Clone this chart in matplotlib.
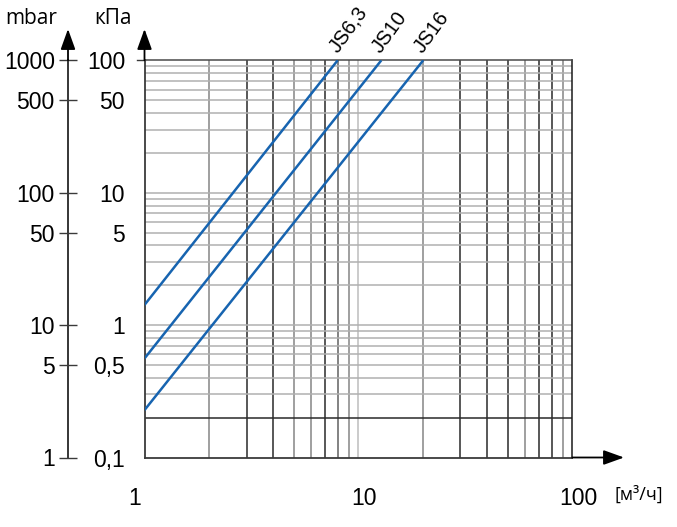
import matplotlib
matplotlib.use("Agg")
import matplotlib.pyplot as plt
import matplotlib.transforms as mtransforms
import numpy as np

# ---- data ----
series_names = ["JS6,3", "JS10", "JS16"]
flow_start = [1.0, 1.0, 1.0]          # m3/h
dp_start = [1.42, 0.56, 0.228]         # kPa
flow_end = [8.0, 12.8, 20.1]           # m3/h
dp_end = [100.0, 100.0, 100.0]         # kPa

x_ticks = [1, 10, 100]
x_tick_labels = ["1", "10", "100"]
kpa_ticks = [100, 50, 10, 5, 1, 0.5, 0.1]
kpa_labels = ["100", "50", "10", "5", "1", "0,5", "0,1"]
mbar_ticks = [1000, 500, 100, 50, 10, 5, 1]
mbar_labels = ["1000", "500", "100", "50", "10", "5", "1"]

# vertical grid values and their shade
vgrid_vals = [2, 3, 4, 5, 6, 7, 8, 9, 10, 20, 30, 40, 50, 60, 70, 80, 90]
vgrid_cols = ["#858585", "#2a2a2a", "#2a2a2a", "#858585", "#858585", "#2a2a2a",
              "#606060", "#858585", "#bdbdbd", "#858585", "#2a2a2a", "#2a2a2a",
              "#2a2a2a", "#858585", "#2a2a2a", "#2a2a2a", "#858585"]
hgrid_vals = [0.3, 0.4, 0.5, 0.6, 0.7, 0.8, 0.9, 1,
              2, 3, 4, 5, 6, 7, 8, 9, 10,
              20, 30, 40, 50, 60, 70, 80, 90]

W, H = 677, 527
fig = plt.figure(figsize=(W / 100, H / 100), dpi=100)

num_font = "Liberation Sans"
title_font = "Open Sans"
num_size = 16.5

x0, x1 = 144.5, 572.3
y_bot, y_top = 457.5, 60.3
ax = fig.add_axes([x0 / W, 1 - y_bot / H, (x1 - x0) / W, (y_bot - y_top) / H])
ax.set_xscale("log")
ax.set_yscale("log")
ax.set_xlim(1, 100)
ax.set_ylim(0.1, 100)

for v, c in zip(vgrid_vals, vgrid_cols):
    ax.axvline(v, color=c, lw=1.1, zorder=1)
for v in hgrid_vals:
    ax.axhline(v, color="#b0b0b0", lw=1.1, zorder=1)
ax.axhline(0.2, color="#2a2a2a", lw=1.1, zorder=1.5)

for s in ["top", "right"]:
    ax.spines[s].set_linewidth(1.1)
ax.spines["top"].set_color("#4a4a4a")
ax.spines["right"].set_color("#1a1a1a")
for s in ["left", "bottom"]:
    ax.spines[s].set_color("#3a3a3a")
    ax.spines[s].set_linewidth(1.3)

# series lines
for name, xs, ys, xe, ye in zip(series_names, flow_start, dp_start, flow_end, dp_end):
    ax.plot([xs, xe], [ys, ye], color="#1764b0", lw=1.8, zorder=3, solid_capstyle="butt")
    ax.annotate(name, xy=(xe, ye), xytext=(2, 3), textcoords="offset points",
                rotation=54, rotation_mode="anchor", ha="left", va="bottom",
                fontsize=14.5, family=num_font, annotation_clip=False)

# ticks
ax.set_xticks(x_ticks)
ax.set_xticklabels(x_tick_labels)
ax.xaxis.set_minor_locator(matplotlib.ticker.NullLocator())
ax.tick_params(axis="x", length=0, pad=21, labelsize=num_size)
ax.set_yticks(kpa_ticks)
ax.set_yticklabels(kpa_labels)
ax.yaxis.set_minor_locator(matplotlib.ticker.NullLocator())
ax.tick_params(axis="y", length=0, pad=14, labelsize=num_size)
for lab in ax.get_xticklabels() + ax.get_yticklabels():
    lab.set_family(num_font)
for lab, dx in zip(ax.get_xticklabels(), [-10, 6, 6]):
    lab.set_transform(lab.get_transform() + mtransforms.ScaledTranslation(dx / 100, 0, fig.dpi_scale_trans))

# short tick at top of kPa axis
ax.plot([-0.017, 0], [1, 1], transform=ax.transAxes, color="#3a3a3a", lw=1.0, clip_on=False)

# arrows for kPa and flow axes
arrow_kw = dict(arrowstyle="-|>,head_length=1.25,head_width=0.45", color="#000000", lw=1.3,
                shrinkA=0, shrinkB=0)
ax.annotate("", xy=(0, 1 + (y_top - 29) / (y_bot - y_top)), xytext=(0, 1),
            xycoords="axes fraction", textcoords="axes fraction",
            arrowprops=arrow_kw, annotation_clip=False)
ax.annotate("", xy=(1 + (624 - x1) / (x1 - x0), 0), xytext=(1, 0),
            xycoords="axes fraction", textcoords="axes fraction",
            arrowprops=arrow_kw, annotation_clip=False)

# mbar axis
mx = 68.0
ax2 = fig.add_axes([mx / W, 1 - y_bot / H, 0.0001, (y_bot - y_top) / H])
ax2.set_yscale("log")
ax2.set_ylim(1, 1000)
ax2.set_xticks([])
for s in ["top", "right", "bottom"]:
    ax2.spines[s].set_visible(False)
ax2.spines["left"].set_color("#3a3a3a")
ax2.spines["left"].set_linewidth(1.3)
ax2.set_yticks(mbar_ticks)
ax2.set_yticklabels(mbar_labels)
ax2.yaxis.set_minor_locator(matplotlib.ticker.NullLocator())
ax2.tick_params(axis="y", direction="inout", length=13, width=1.0, pad=3, labelsize=num_size,
                colors="#3a3a3a", labelcolor="black")
for lab in ax2.get_yticklabels():
    lab.set_family(num_font)
tick_shades = ["#3a3a3a", "#8a8a8a", "#3a3a3a", "#8a8a8a", "#3a3a3a", "#8a8a8a", "#8a8a8a"]
for t, c in zip(ax2.yaxis.get_major_ticks(), tick_shades):
    t.tick1line.set_color(c)
ax2.annotate("", xy=(0, 1 + (y_top - 29) / (y_bot - y_top)), xytext=(0, 1),
             xycoords="axes fraction", textcoords="axes fraction",
             arrowprops=arrow_kw, annotation_clip=False)
ax2.plot([0, 0], [0, 1], transform=ax2.transAxes, color="#3a3a3a", lw=1.3, clip_on=False)

# titles / units
fig.text(5 / W, 1 - 19 / H, "mbar", family=title_font, fontsize=15, va="center", ha="left")
fig.text(94 / W, 1 - 19 / H, "кПа", family=title_font, fontsize=15, va="center", ha="left")
fig.text(615 / W, 1 - 495 / H, "[м³/ч]", family=title_font, fontsize=13, va="center", ha="left")

fig.savefig("out.png", dpi=100, facecolor="white")
